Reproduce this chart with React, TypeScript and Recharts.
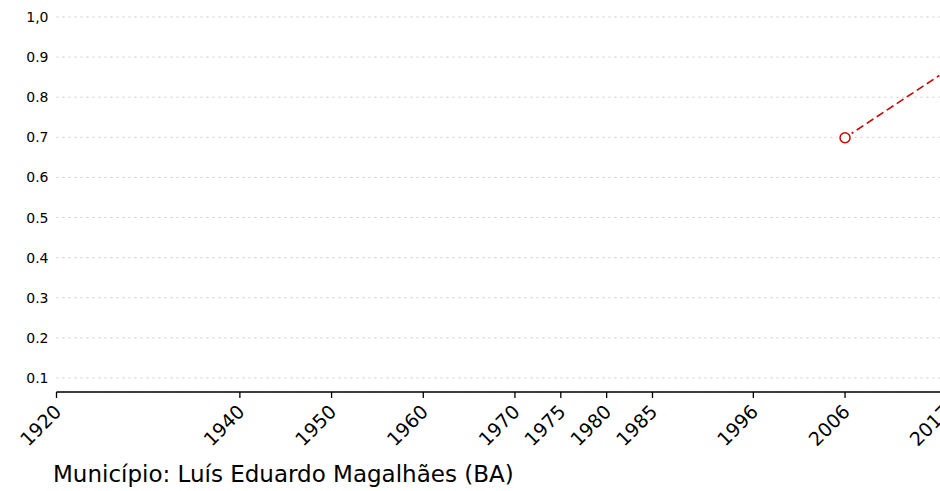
import { CartesianGrid, Line, LineChart, XAxis, YAxis } from "recharts";

const years = [2006, 2017];
const values = [0.699, 0.865];
const xTicks = [1920, 1940, 1950, 1960, 1970, 1975, 1980, 1985, 1996, 2006, 2017];
const yTicks = [0.1, 0.2, 0.3, 0.4, 0.5, 0.6, 0.7, 0.8, 0.9, 1.0];
const caption = "Município: Luís Eduardo Magalhães (BA)";

const RED = "#cc0000";
const FONT = '"DejaVu Sans", sans-serif';

const data = years.map((year, i) => ({ year, value: values[i] }));

function XTick({ x, y, payload }: any) {
  const ax = x + 6;
  const ay = y + 13;
  return (
    <text
      x={ax}
      y={ay}
      transform={`rotate(-45, ${ax}, ${ay})`}
      textAnchor="end"
      fontSize={19}
      fontFamily={FONT}
      fill="#000"
    >
      {payload.value}
    </text>
  );
}

function Dot({ cx, cy }: any) {
  return (
    <g>
      <circle cx={cx} cy={cy} r={8} fill="#fff" />
      <circle cx={cx} cy={cy} r={5} fill="#fff" stroke={RED} strokeWidth={1.5} />
    </g>
  );
}

export default function App() {
  return (
    <div
      style={{
        position: "fixed",
        left: 0,
        top: 0,
        width: 940,
        height: 491,
        overflow: "hidden",
        background: "#fff",
        fontFamily: FONT,
      }}
    >
      <LineChart
        width={980}
        height={491}
        data={data}
        margin={{ top: 17, right: 6.6, left: 0, bottom: 0 }}
      >
        <CartesianGrid vertical={false} stroke="#c8c8c8" strokeDasharray="2 4" />
        <XAxis
          dataKey="year"
          type="number"
          domain={[1920, 2020]}
          ticks={xTicks}
          interval={0}
          allowDataOverflow
          stroke="#000"
          strokeWidth={1.3}
          tickSize={6}
          height={99}
          tick={<XTick />}
        />
        <YAxis
          type="number"
          domain={[0.065, 1.0]}
          ticks={yTicks}
          allowDataOverflow
          axisLine={false}
          tickLine={false}
          width={56.5}
          tick={{ fontSize: 14, fill: "#000", fontFamily: FONT }}
          tickFormatter={(v: number) => (v === 1 ? "1,0" : v.toFixed(1))}
        />
        <Line
          dataKey="value"
          stroke={RED}
          strokeWidth={1.6}
          strokeDasharray="8 4"
          strokeDashoffset={-2}
          dot={<Dot />}
          activeDot={false}
          isAnimationActive={false}
          type="linear"
        />
      </LineChart>
      <div
        style={{
          position: "absolute",
          left: 53,
          top: 463,
          fontSize: 23,
          lineHeight: 1,
          color: "#000",
          whiteSpace: "nowrap",
        }}
      >
        {caption}
      </div>
    </div>
  );
}
